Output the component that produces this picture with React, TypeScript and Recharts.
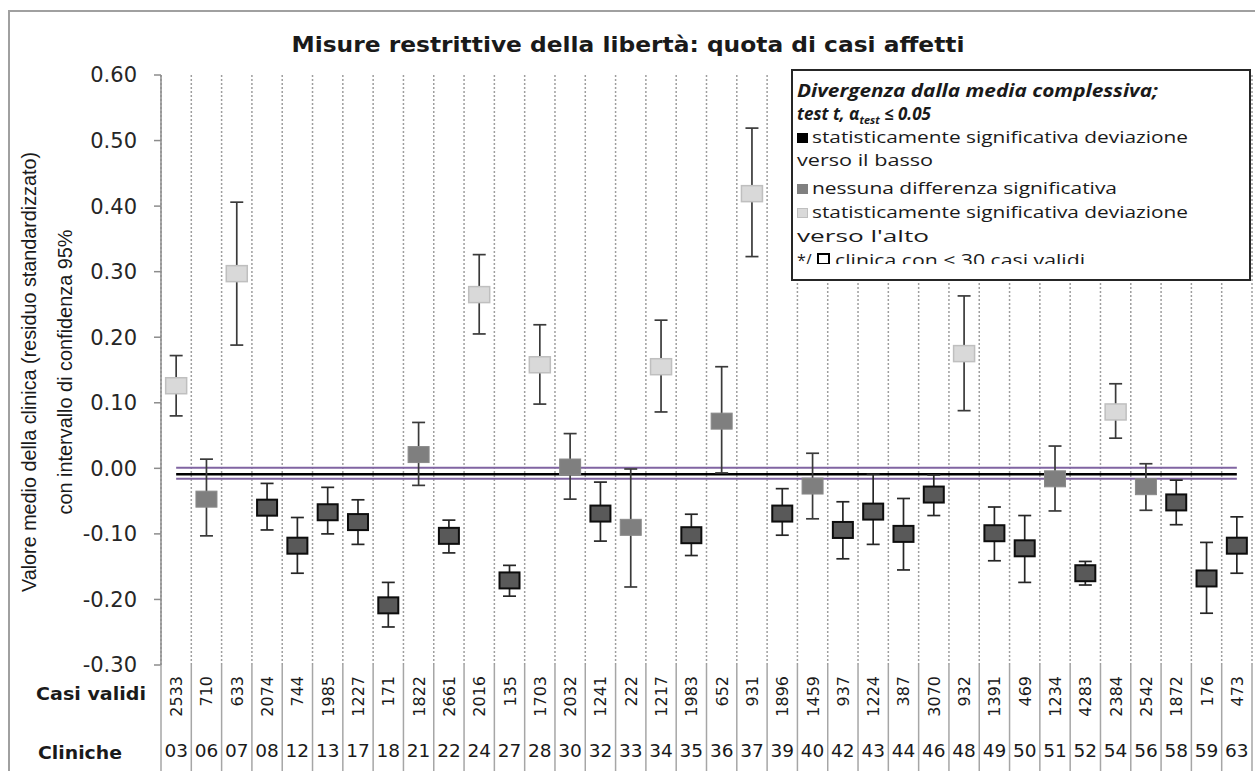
import React from 'react';
import {
  ComposedChart,
  Scatter,
  ErrorBar,
  XAxis,
  YAxis,
  CartesianGrid,
  ReferenceLine,
} from 'recharts';

// ---- data ----
const clinics = ['03','06','07','08','12','13','17','18','21','22','24','27','28','30','32','33','34','35','36','37','39','40','42','43','44','46','48','49','50','51','52','54','56','58','59','63'];
const validCases = [2533,710,633,2074,744,1985,1227,171,1822,2661,2016,135,1703,2032,1241,222,1217,1983,652,931,1896,1459,937,1224,387,3070,932,1391,469,1234,4283,2384,2542,1872,176,473];
const means = [0.126,-0.047,0.297,-0.060,-0.118,-0.067,-0.082,-0.209,0.021,-0.103,0.265,-0.171,0.158,0.002,-0.069,-0.090,0.155,-0.102,0.072,0.419,-0.069,-0.027,-0.094,-0.066,-0.100,-0.040,0.175,-0.099,-0.122,-0.016,-0.160,0.086,-0.028,-0.052,-0.168,-0.118];
const upperCI = [0.172,0.014,0.406,-0.023,-0.075,-0.029,-0.048,-0.174,0.070,-0.079,0.326,-0.148,0.219,0.053,-0.021,-0.001,0.226,-0.070,0.155,0.519,-0.031,0.023,-0.051,-0.009,-0.046,-0.010,0.263,-0.059,-0.072,0.034,-0.142,0.129,0.007,-0.018,-0.113,-0.074];
const lowerCI = [0.080,-0.103,0.188,-0.094,-0.160,-0.100,-0.116,-0.242,-0.026,-0.129,0.205,-0.195,0.098,-0.047,-0.111,-0.181,0.086,-0.133,-0.007,0.323,-0.102,-0.077,-0.138,-0.116,-0.155,-0.072,0.088,-0.141,-0.174,-0.065,-0.178,0.046,-0.064,-0.086,-0.221,-0.160];
// L = significantly lower, N = no difference, H = significantly higher
const significance = ['H','N','H','L','L','L','L','L','N','L','H','L','H','N','L','N','H','L','N','H','L','N','L','L','L','L','H','L','L','N','L','H','N','L','L','L'];
const yTicks = [-0.3,-0.2,-0.1,0,0.1,0.2,0.3,0.4,0.5,0.6];
const overallMean = -0.009;
const bandHigh = 0.001;
const bandLow = -0.016;

const rows = clinics.map((c, i) => ({
  idx: i + 0.5,
  clinic: c,
  n: validCases[i],
  mean: means[i],
  err: [means[i] - lowerCI[i], upperCI[i] - means[i]],
  sig: significance[i],
}));
const lowRows = rows.filter((r) => r.sig === 'L');
const noneRows = rows.filter((r) => r.sig === 'N');
const highRows = rows.filter((r) => r.sig === 'H');
const centerTicks = rows.map((r) => r.idx);
const boundaryTicks = clinics.map((_, i) => i).concat([clinics.length]);
const firstX = rows[0].idx;
const lastX = rows[rows.length - 1].idx;

const TXT = '#1a1a1a';
const PLOT_TOP = 75;
const PLOT_H = 590;
const TABLE_H = 106;

const LowShape = (p: any) => (
  <rect x={p.cx - 10} y={p.cy - 8} width={20} height={16} fill="#595959" stroke="#0d0d0d" strokeWidth={2} />
);
const NoneShape = (p: any) => (
  <rect x={p.cx - 10.5} y={p.cy - 8} width={21} height={16} fill="#7f7f7f" stroke="#8a8a8a" strokeWidth={1} />
);
const HighShape = (p: any) => (
  <rect x={p.cx - 10.5} y={p.cy - 8} width={21} height={16} fill="#d9d9d9" stroke="#bfbfbf" strokeWidth={1.5} />
);

const CatTick = (props: any) => {
  const { x, y, payload } = props;
  const i = Math.floor(payload.value);
  return (
    <g>
      <text
        transform={`translate(${x + 6},${y + 11}) rotate(-90)`}
        textAnchor="end"
        fontFamily="DejaVu Sans"
        fontSize={16}
        fill={TXT}
      >
        {validCases[i]}
      </text>
      <text x={x} y={y + 92} textAnchor="middle" fontFamily="DejaVu Sans" fontSize={18.5} fill={TXT}>
        {clinics[i]}
      </text>
    </g>
  );
};

// the separator axis sits at the very bottom; draw the table separators upward from it
const SepTick = (props: any) => (
  <line x1={props.x} x2={props.x} y1={props.y - TABLE_H + 1} y2={props.y + 2} stroke="#a6a6a6" strokeWidth={1.5} />
);

export default function App() {
  return (
    <div style={{ position: 'absolute', left: 0, top: 0, width: 1255, height: 771, background: '#fff', overflow: 'hidden' }}>
      <ComposedChart
        width={1255}
        height={771}
        data={rows}
        margin={{ top: PLOT_TOP, right: 3, bottom: 0, left: 0 }}
      >
        <CartesianGrid
          xAxisId="grid"
          horizontal={false}
          vertical
          y={PLOT_TOP}
          height={PLOT_H}
          stroke="#9e9e9e"
          strokeWidth={1.5}
          strokeDasharray="2 2"
        />
        <XAxis
          xAxisId="grid"
          type="number"
          dataKey="idx"
          domain={[0, clinics.length]}
          ticks={boundaryTicks}
          interval={0}
          height={1}
          axisLine={false}
          tickLine={false}
          tickSize={0}
          tickMargin={0}
          tick={<SepTick />}
        />
        <XAxis
          xAxisId="cat"
          type="number"
          dataKey="idx"
          domain={[0, clinics.length]}
          ticks={centerTicks}
          interval={0}
          height={105}
          axisLine={false}
          tickLine={false}
          tickSize={0}
          tickMargin={0}
          tick={<CatTick />}
        />
        <YAxis
          type="number"
          domain={[-0.3, 0.6]}
          ticks={yTicks}
          interval={0}
          width={161}
          tickFormatter={(v: number) => v.toFixed(2)}
          axisLine={{ stroke: '#8c8c8c', strokeWidth: 1.5 }}
          tickLine={{ stroke: '#8c8c8c', strokeWidth: 1.5 }}
          tickSize={7}
          tickMargin={17}
          tick={{ fontFamily: 'DejaVu Sans', fontSize: 21, fill: '#262626' }}
        />
        <ReferenceLine xAxisId="cat" segment={[{ x: firstX, y: bandHigh }, { x: lastX, y: bandHigh }]} stroke="#8064a2" strokeWidth={2} />
        <ReferenceLine xAxisId="cat" segment={[{ x: firstX, y: bandLow }, { x: lastX, y: bandLow }]} stroke="#8064a2" strokeWidth={2} />
        <ReferenceLine xAxisId="cat" segment={[{ x: firstX, y: overallMean }, { x: lastX, y: overallMean }]} stroke="#000" strokeWidth={2.5} />
        <Scatter xAxisId="cat" data={noneRows} dataKey="mean" isAnimationActive={false} shape={NoneShape}>
          <ErrorBar dataKey="err" direction="y" width={6.5} stroke="#3a3a3a" strokeWidth={1.7} isAnimationActive={false} />
        </Scatter>
        <Scatter xAxisId="cat" data={highRows} dataKey="mean" isAnimationActive={false} shape={HighShape}>
          <ErrorBar dataKey="err" direction="y" width={6.5} stroke="#3a3a3a" strokeWidth={1.7} isAnimationActive={false} />
        </Scatter>
        <Scatter xAxisId="cat" data={lowRows} dataKey="mean" isAnimationActive={false} shape={LowShape}>
          <ErrorBar dataKey="err" direction="y" width={6.5} stroke="#262626" strokeWidth={1.7} isAnimationActive={false} />
        </Scatter>
      </ComposedChart>

      <svg width={1255} height={771} style={{ position: 'absolute', left: 0, top: 0, pointerEvents: 'none' }}>
        <defs>
          <clipPath id="legendClip">
            <rect x={792} y={70} width={458} height={194} />
          </clipPath>
        </defs>
        <rect x={9} y={11} width={1300} height={800} fill="none" stroke="#a0a0a0" strokeWidth={2} />
        <text x={628} y={52} textAnchor="middle" fontFamily="DejaVu Sans" fontWeight="bold" fontSize={21} fill={TXT} textLength={673} lengthAdjust="spacingAndGlyphs">
          Misure restrittive della libertà: quota di casi affetti
        </text>
        <text transform="translate(36,372) rotate(-90)" textAnchor="middle" fontFamily="Liberation Sans" fontSize={21} fill={TXT} textLength={440} lengthAdjust="spacingAndGlyphs">
          Valore medio della clinica (residuo standardizzato)
        </text>
        <text transform="translate(72,372) rotate(-90)" textAnchor="middle" fontFamily="Liberation Sans" fontSize={21} fill={TXT} textLength={285} lengthAdjust="spacingAndGlyphs">
          con intervallo di confidenza 95%
        </text>
        <text x={36} y={700} fontFamily="DejaVu Sans" fontWeight="bold" fontSize={18} fill={TXT} textLength={110} lengthAdjust="spacingAndGlyphs">
          Casi validi
        </text>
        <text x={38} y={759} fontFamily="DejaVu Sans" fontWeight="bold" fontSize={18} fill={TXT} textLength={84} lengthAdjust="spacingAndGlyphs">
          Cliniche
        </text>

        {/* legend */}
        <rect x={792} y={70} width={458} height={210} fill="#fff" stroke="#262626" strokeWidth={2} />
        <g clipPath="url(#legendClip)" fontFamily="Open Sans" fill={TXT}>
          <text x={797} y={97} fontWeight="bold" fontStyle="italic" fontSize={17} textLength={361} lengthAdjust="spacingAndGlyphs">
            Divergenza dalla media complessiva;
          </text>
          <text x={797} y={120} fontWeight="bold" fontStyle="italic" fontSize={17}>
            test t, α<tspan fontSize={11} dy={4}>test</tspan><tspan dy={-4}> ≤ 0.05</tspan>
          </text>
          <rect x={797} y={133} width={11} height={10} fill="#000" />
          <text x={812} y={143} fontSize={16} textLength={376} lengthAdjust="spacingAndGlyphs">
            statisticamente significativa deviazione
          </text>
          <text x={797} y={166} fontSize={16} textLength={136} lengthAdjust="spacingAndGlyphs">
            verso il basso
          </text>
          <rect x={797} y={184} width={11} height={10} fill="#808080" />
          <text x={812} y={194} fontSize={16} textLength={305} lengthAdjust="spacingAndGlyphs">
            nessuna differenza significativa
          </text>
          <rect x={797.5} y={208.5} width={10} height={9} fill="#d9d9d9" stroke="#bfbfbf" strokeWidth={1} />
          <text x={812} y={218} fontSize={16} textLength={376} lengthAdjust="spacingAndGlyphs">
            statisticamente significativa deviazione
          </text>
          <text x={797} y={242} fontSize={16} textLength={132} lengthAdjust="spacingAndGlyphs">
            verso l'alto
          </text>
          <text x={797} y={266} fontSize={16}>*/</text>
          <rect x={818} y={254} width={11} height={10} fill="#fff" stroke="#000" strokeWidth={2} />
          <text x={835} y={266} fontSize={16} textLength={250} lengthAdjust="spacingAndGlyphs">
            clinica con &lt; 30 casi validi
          </text>
        </g>
      </svg>
    </div>
  );
}
